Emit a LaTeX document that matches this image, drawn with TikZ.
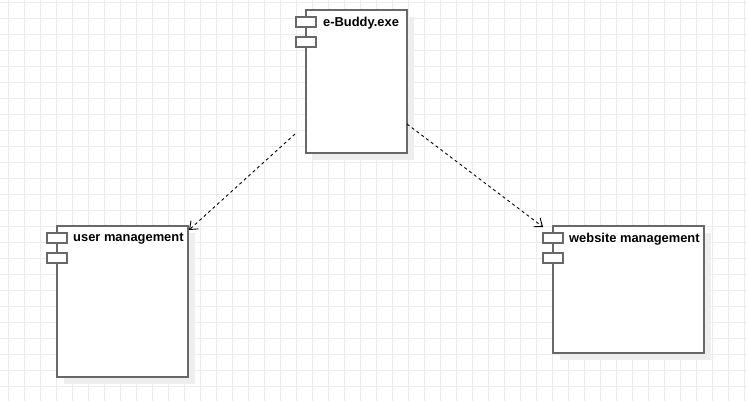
\documentclass[tikz,border=0pt]{standalone}
\usepackage{fontspec}
\setmainfont{Liberation Sans}
\usetikzlibrary{arrows.meta, calc, positioning, shadows}
\definecolor{gridgray}{RGB}{236,236,236}
\definecolor{shadowgray}{RGB}{238,238,238}
\definecolor{borderdark}{RGB}{104,104,104}

\begin{document}
\begin{tikzpicture}[x=1pt, y=-1pt,
    gridline/.style={draw=gridgray, line width=1pt},
    component/.style={draw=borderdark, line width=2pt, fill=white, outer sep=0pt, inner sep=0pt, anchor=north west,
        drop shadow={shadow xshift=7pt, shadow yshift=-7pt, fill=shadowgray, opacity=1}},
    port/.style={draw=borderdark, line width=2pt, fill=white, outer sep=0pt, inner sep=0pt, minimum width=20pt, minimum height=10pt},
    complabel/.style={anchor=west, inner sep=0pt, font=\fontsize{12.9}{15}\selectfont\bfseries},
    dependency/.style={line width=0.9pt, dash pattern=on 3pt off 3pt, -{Straight Barb[length=7pt, width=11pt]}}]
    % Page and background grid
    \useasboundingbox[fill=white] (0,0) rectangle (747,401);
    \foreach \gx in {0,...,46}
        \draw[gridline] (8.5+16*\gx, 0) -- (8.5+16*\gx, 401);
    \foreach \gy in {0,...,24}
        \draw[gridline] (0, 2.5+16*\gy) -- (747, 2.5+16*\gy);

    % Main executable
    \node[component, minimum width=101pt, minimum height=143pt] (ebuddy) at (306,10) {};
    \node[port] (ebuddyportA) at ($(ebuddy.north west)+(0,12)$) {};
    \node[port] (ebuddyportB) at ($(ebuddy.north west)+(0,32)$) {};
    \node[complabel] (ebuddylbl) at ($(ebuddy.north west)+(17,13)$) {e-Buddy.exe};

    % User management
    \node[component, minimum width=131pt, minimum height=151pt] (user) at (57,226) {};
    \node[port] (userportA) at ($(user.north west)+(0,12)$) {};
    \node[port] (userportB) at ($(user.north west)+(0,32)$) {};
    \node[complabel] (userlbl) at ($(user.north west)+(16,13)$) {user management};

    % Website management
    \node[component, minimum width=151pt, minimum height=127pt] (website) at (553,226) {};
    \node[port] (websiteportA) at ($(website.north west)+(0,12)$) {};
    \node[port] (websiteportB) at ($(website.north west)+(0,32)$) {};
    \node[complabel] (websitelbl) at ($(website.north west)+(16,13)$) {website management};

    % Dependencies
    \draw[dependency] ($(ebuddy.north west)+(-11,124)$) -- ($(user.north east)+(1,4)$);
    \draw[dependency] ($(ebuddy.north east)+(0,114)$) -- ($(website.north west)+(-10,1)$);
\end{tikzpicture}
\end{document}
